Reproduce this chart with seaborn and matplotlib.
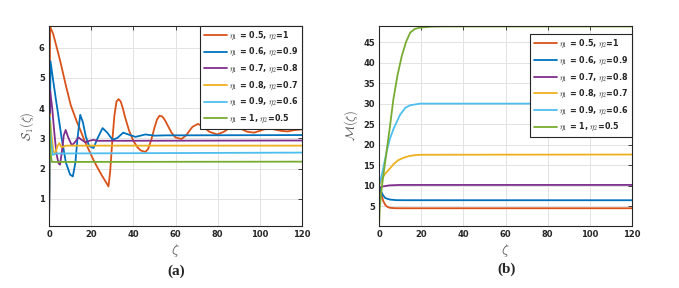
import numpy as np
import pandas as pd
import matplotlib
matplotlib.use("Agg")
import matplotlib.pyplot as plt
import seaborn as sns

# legend labels (eta_1, eta_2 pairs)
labels = [r"$\eta_1$ = 0.5, $\eta_2$=1",
          r"$\eta_1$ = 0.6, $\eta_2$=0.9",
          r"$\eta_1$ = 0.7, $\eta_2$=0.8",
          r"$\eta_1$ = 0.8, $\eta_2$=0.7",
          r"$\eta_1$ = 0.9, $\eta_2$=0.6",
          r"$\eta_1$ = 1, $\eta_2$=0.5"]
colors = ["#D95319", "#0072BD", "#7E2F8E", "#EDB120", "#4DBEEE", "#77AC30"]

# panel (a): S1(zeta)
a_t1 = [0, 0.5, 2, 3.5, 5.2, 6.5, 8, 10.3, 13.2, 15, 17, 19, 21, 23, 25, 27, 28.2, 29,
        30, 31, 32, 33, 34, 35, 36, 38, 40, 42, 43.5, 45.7, 47, 48.5, 50, 51.2, 52.4,
        53.8, 55, 58, 60, 62.9, 65, 68, 70.6, 73, 76, 79.8, 83, 85, 87.8, 91, 94,
        97.3, 100, 102, 105.2, 108, 110, 113.2, 116, 120]
a_y1 = [0.1, 6.7, 6.45, 6.05, 5.59, 5.2, 4.75, 4.1, 3.55, 3.25, 2.9, 2.6, 2.3, 2.03,
        1.78, 1.55, 1.41, 1.9, 2.9, 3.75, 4.22, 4.3, 4.22, 4.0, 3.72, 3.25, 2.92,
        2.7, 2.6, 2.55, 2.65, 2.95, 3.35, 3.62, 3.75, 3.72, 3.6, 3.2, 3.03, 2.98,
        3.1, 3.38, 3.48, 3.4, 3.22, 3.13, 3.22, 3.32, 3.37, 3.32, 3.22, 3.19, 3.25,
        3.3, 3.32, 3.28, 3.25, 3.23, 3.27, 3.3]

a_t2 = [0, 0.7, 2, 3.3, 4, 6, 8, 10, 11.3, 12.5, 13.5, 14.8, 16, 17.5, 19, 21.1, 23,
        25.4, 27.5, 30.2, 32.5, 35.2, 38, 41, 45.7, 50, 55, 120]
a_y2 = [0.1, 5.55, 4.9, 4.27, 3.95, 3.0, 2.2, 1.8, 1.74, 2.2, 3.0, 3.78, 3.55, 3.05,
        2.75, 2.68, 3.0, 3.34, 3.2, 2.95, 3.02, 3.19, 3.12, 3.05, 3.13, 3.09, 3.1, 3.11]

a_t3 = [0, 0.5, 1.5, 2.5, 3.5, 4.5, 5.2, 6, 7, 7.9, 9, 10.8, 12, 14, 15.5, 17.3, 19,
        21, 23, 120]
a_y3 = [0.1, 4.6, 4.0, 3.2, 2.5, 2.18, 2.13, 2.5, 3.1, 3.28, 3.05, 2.77, 2.85, 3.03,
        2.95, 2.87, 2.92, 2.95, 2.92, 2.93]

a_t4 = [0, 0.3, 1, 2, 2.9, 4, 4.9, 5.8, 6.8, 8, 120]
a_y4 = [0.1, 3.8, 3.2, 2.6, 2.48, 2.75, 2.84, 2.72, 2.72, 2.76, 2.76]

a_t5 = [0, 0.3, 1, 1.8, 3, 120]
a_y5 = [0.1, 3.7, 2.9, 2.45, 2.5, 2.53]

a_t6 = [0, 0.2, 0.8, 1.3, 120]
a_y6 = [0.1, 3.6, 2.5, 2.22, 2.23]

# panel (b): M(zeta)
b_t1 = [0, 1, 2, 3, 4, 5, 7, 10, 120]
b_y1 = [10, 8.0, 6.3, 5.3, 4.85, 4.65, 4.55, 4.52, 4.52]

b_t2 = [0, 1, 2, 3, 5, 8, 12, 120]
b_y2 = [10, 8.6, 7.6, 7.0, 6.65, 6.5, 6.48, 6.47]

b_t3 = [0, 2, 5, 10, 120]
b_y3 = [9.5, 9.85, 10.1, 10.2, 10.2]

b_t4 = [0, 1.5, 3, 5, 7, 9, 11.6, 14, 17, 20, 120]
b_y4 = [10, 11.8, 13.0, 14.1, 15.3, 16.2, 16.8, 17.2, 17.45, 17.55, 17.6]

b_t5 = [0, 1.5, 3.7, 5.2, 7, 10, 12.5, 14.8, 19.5, 120]
b_y5 = [10, 13, 18.5, 21.5, 24, 27.3, 29, 29.6, 30.0, 30.0]

b_t6 = [0, 0.4, 1.4, 3.7, 5.2, 6.8, 8.8, 10.8, 12.8, 14.8, 17, 19.5, 25, 30, 120]
b_y6 = [0.2, 5, 10, 18.8, 24.5, 31, 37, 41.6, 45, 47.3, 48.2, 48.5, 48.75, 48.8, 48.8]


def long_df(ts, ys):
    parts = []
    for lab, t, y in zip(labels, ts, ys):
        parts.append(pd.DataFrame({"t": t, "v": y, "case": lab}))
    return pd.concat(parts, ignore_index=True)


df_a = long_df([a_t1, a_t2, a_t3, a_t4, a_t5, a_t6], [a_y1, a_y2, a_y3, a_y4, a_y5, a_y6])
df_b = long_df([b_t1, b_t2, b_t3, b_t4, b_t5, b_t6], [b_y1, b_y2, b_y3, b_y4, b_y5, b_y6])

sns.set_style("whitegrid")
plt.rcParams["font.family"] = ["DejaVu Sans"]
plt.rcParams["mathtext.fontset"] = "cm"

fig = plt.figure(figsize=(6.79, 2.88), dpi=100)
ax1 = fig.add_axes([0.0722, 0.2153, 0.3726, 0.6944])
ax2 = fig.add_axes([0.5582, 0.2153, 0.3726, 0.6944])


def style(ax, ylim, yticks, ylab, leg_y):
    ax.set_xlim(0, 120)
    ax.set_ylim(*ylim)
    ax.set_xticks(range(0, 121, 20))
    ax.set_yticks(yticks)
    ax.grid(True, color="#e3e3e3", linewidth=0.7)
    for s in ax.spines.values():
        s.set_color("#262626")
        s.set_linewidth(0.8)
    ax.tick_params(direction="in", length=3, width=0.6, top=True, right=True,
                   labelsize=6, colors="#262626", pad=3)
    for lb in ax.get_xticklabels() + ax.get_yticklabels():
        lb.set_fontweight("bold")
    ax.set_xlabel(r"$\zeta$", fontsize=10, color="#555555", labelpad=2)
    ax.set_ylabel(ylab, fontsize=9, color="#555555", labelpad=2)
    h, l = ax.get_legend_handles_labels()
    leg = ax.legend(h, l, loc="upper right", bbox_to_anchor=(1.0, leg_y),
                    borderaxespad=0, fancybox=False, framealpha=1, edgecolor="#262626",
                    prop={"size": 5.8, "weight": "bold"}, handlelength=2.8,
                    handletextpad=0.3, labelspacing=0.55, borderpad=0.45)
    leg.get_frame().set_linewidth(0.8)


sns.lineplot(data=df_a, x="t", y="v", hue="case", palette=colors, linewidth=1.3,
             ax=ax1, sort=False, estimator=None)
style(ax1, (0.1, 6.72), range(1, 7), r"$\mathcal{S}_1(\zeta)$", 1.0)

sns.lineplot(data=df_b, x="t", y="v", hue="case", palette=colors, linewidth=1.3,
             ax=ax2, sort=False, estimator=None)
style(ax2, (0.2, 48.9), range(5, 46, 5), r"$\mathcal{M}(\zeta)$", 0.958)

fig.text(0.259, 0.045, "(a)", ha="center", family="Liberation Serif",
         fontweight="bold", fontsize=11)
fig.text(0.746, 0.052, "(b)", ha="center", family="Liberation Serif",
         fontweight="bold", fontsize=11)

fig.savefig("out.png", dpi=100)
